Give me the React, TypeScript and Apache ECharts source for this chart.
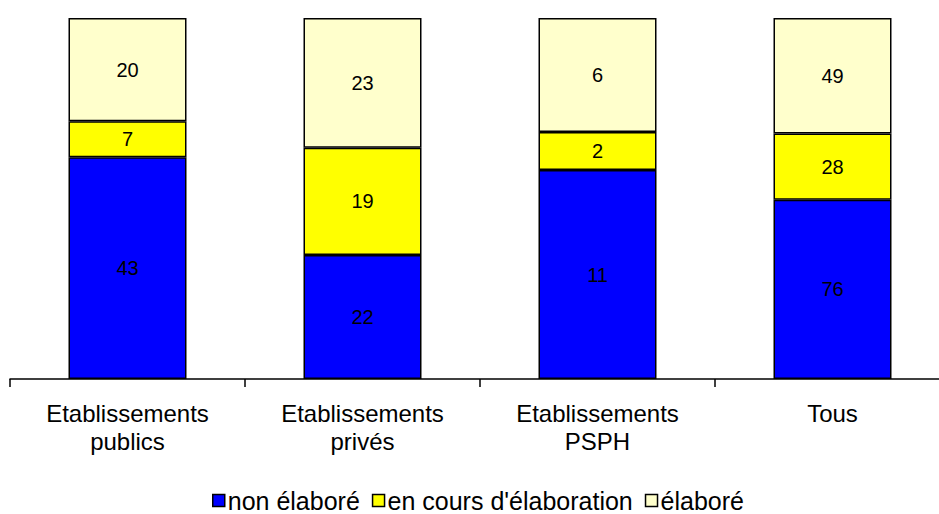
import React, { useEffect, useRef } from "react";
import * as echarts from "echarts";

const categories = [
  "Etablissements\npublics",
  "Etablissements\nprivés",
  "Etablissements\nPSPH",
  "Tous",
];
const nonElabore = [43, 22, 11, 76];
const enCours = [7, 19, 2, 28];
const elabore = [20, 23, 6, 49];
const seriesNames = ["non élaboré", "en cours d'élaboration", "élaboré"];
const seriesColors = ["#0000FF", "#FFFF00", "#FFFFCC"];

export default function App() {
  const ref = useRef<HTMLDivElement>(null);
  useEffect(() => {
    if (!ref.current) return;
    const chart = echarts.init(ref.current, undefined, { renderer: "svg" });
    const raw = [nonElabore, enCours, elabore];
    const totals = categories.map((_, i) => raw.reduce((s, a) => s + a[i], 0));
    const font = "Liberation Sans, Arial, sans-serif";
    chart.setOption({
      animation: false,
      textStyle: { fontFamily: font },
      grid: { left: 10, top: 18, right: 0, height: 361, containLabel: false },
      legend: {
        top: 488,
        left: 212,
        padding: 0,
        itemWidth: 12,
        itemHeight: 12,
        itemGap: 12,
        icon: "rect",
        textStyle: { fontSize: 25, color: "#000", fontFamily: font, padding: [0, 0, 0, -2] },
        data: seriesNames.map((n, k) => ({
          name: n,
          itemStyle: { color: seriesColors[k], borderColor: "#000", borderWidth: 1.5 },
        })),
      },
      xAxis: {
        type: "category",
        data: categories,
        axisLine: { lineStyle: { color: "#000", width: 1.5 } },
        axisTick: { show: true, interval: 0, alignWithLabel: false, length: 8, lineStyle: { color: "#000", width: 1.5 } },
        axisLabel: { interval: 0, fontSize: 24, color: "#000", lineHeight: 28, margin: 20, fontFamily: font },
      },
      yAxis: { type: "value", min: 0, max: 100, show: false, splitLine: { show: false } },
      series: raw.map((arr, k) => ({
        name: seriesNames[k],
        type: "bar",
        stack: "total",
        barWidth: 118,
        data: arr.map((v, i) => (v / totals[i]) * 100),
        itemStyle: { color: seriesColors[k], borderColor: "#000", borderWidth: 1.5 },
        label: {
          show: true,
          position: "inside",
          color: "#000",
          fontSize: 20,
          fontFamily: font,
          formatter: (p: any) => String(arr[p.dataIndex]),
        },
      })),
    });
    return () => chart.dispose();
  }, []);
  return (
    <div style={{ width: 939, height: 514, position: "absolute", left: 0, top: 0, overflow: "hidden" }}>
      <div ref={ref} style={{ width: 950, height: 514 }} />
    </div>
  );
}
